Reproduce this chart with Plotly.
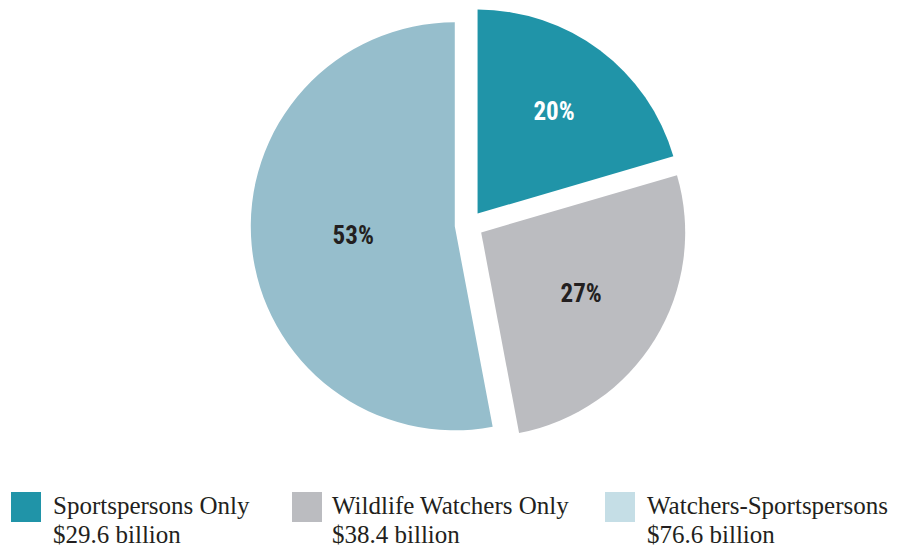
import plotly.graph_objects as go

# ---- data ----
categories = ["Sportspersons Only", "Wildlife Watchers Only", "Watchers-Sportspersons"]
values = [29.6, 38.4, 76.6]  # $ billion
value_labels = ["$29.6 billion", "$38.4 billion", "$76.6 billion"]

# ---- styles ----
slice_colors = ["#2094A8", "#BBBCC0", "#96BECC"]
swatch_colors = ["#2094A8", "#BBBCC0", "#C5DEE6"]
pct_text_colors = ["#FFFFFF", "#231F20", "#231F20"]
W, H = 918, 548

def px(x):
    return x / W

def py(y):
    return 1 - y / H

cx, cy, r, pull = 469, 225, 204, 0.07
half = r * (1 + pull)

fig = go.Figure(
    go.Pie(
        labels=categories,
        values=values,
        sort=False,
        direction="clockwise",
        rotation=0,
        pull=[pull] * 3,
        marker=dict(colors=slice_colors, line=dict(width=0)),
        texttemplate="%{percent:.0%}",
        textposition="inside",
        insidetextorientation="horizontal",
        insidetextfont=dict(
            family="Liberation Sans Narrow, Roboto Condensed, Arial Narrow, Roboto, sans-serif",
            size=25,
            color=pct_text_colors,
            weight="bold",
        ),
        domain=dict(x=[px(cx - half), px(cx + half)], y=[py(cy + half), py(cy - half)]),
        showlegend=False,
        hoverinfo="label+value+percent",
    )
)

# ---- manual legend ----
swatch_x = [11, 292, 605]
text_x = [51, 330, 645]
shapes = []
annotations = []
serif = "Liberation Serif, DejaVu Serif, serif"
for i in range(3):
    shapes.append(dict(
        type="rect", xref="paper", yref="paper",
        x0=px(swatch_x[i]), x1=px(swatch_x[i] + 30),
        y0=py(522), y1=py(492),
        fillcolor=swatch_colors[i], line=dict(width=0),
    ))
    annotations.append(dict(
        xref="paper", yref="paper", x=px(text_x[i]), y=py(505),
        xanchor="left", yanchor="middle", showarrow=False,
        text=categories[i], font=dict(family=serif, size=25, color="#231F20"),
    ))
    annotations.append(dict(
        xref="paper", yref="paper", x=px(text_x[i]), y=py(534),
        xanchor="left", yanchor="middle", showarrow=False,
        text=value_labels[i], font=dict(family=serif, size=25, color="#231F20"),
    ))

fig.update_layout(
    width=W, height=H,
    margin=dict(l=0, r=0, t=0, b=0),
    paper_bgcolor="white",
    plot_bgcolor="white",
    shapes=shapes,
    annotations=annotations,
)

fig.write_html(
    "out.html",
    config={"displayModeBar": False},
    post_script="document.body.style.margin='0';document.body.style.overflow='hidden';",
)
